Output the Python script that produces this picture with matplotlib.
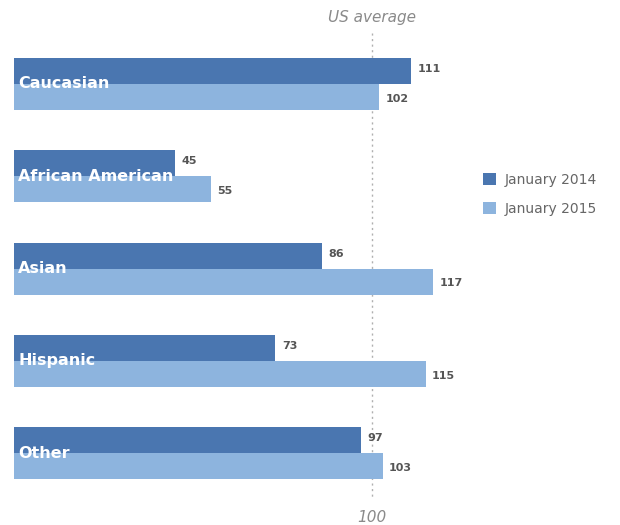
import matplotlib.pyplot as plt
import numpy as np

categories = ['Caucasian', 'African American', 'Asian', 'Hispanic', 'Other']
jan_2014 = [111, 45, 86, 73, 97]
jan_2015 = [102, 55, 117, 115, 103]
series_labels = ['January 2014', 'January 2015']
us_average = 100

dark_blue = '#4a76b0'
light_blue = '#8db4de'
grey = '#8a8a8a'

fig = plt.figure(figsize=(6.2, 5.25), dpi=100)
ax = fig.add_axes([0, 0, 1, 1])

# scale: ~3.58 px per unit, bars start at x=14px; groups 92.25px apart
px_per_unit = 3.58
group_px = 92.25
ax.set_xlim(-14 / px_per_unit, (620 - 14) / px_per_unit)
ax.set_ylim((525 - 84) / group_px, -84 / group_px)
ax.axis('off')

y = np.arange(len(categories))
h = 26 / group_px

# US average reference line (behind bars)
ax.plot([us_average, us_average], [-0.55, 4.5], color='#b0b0b0', lw=1.0,
        ls=(0, (1.5, 2.5)), zorder=1)
ax.text(us_average, -0.72, 'US average', ha='center', va='center',
        fontsize=11, style='italic', color=grey)
ax.text(us_average, 4.7, '100', ha='center', va='center',
        fontsize=11, style='italic', color=grey)

ax.barh(y - h / 2, jan_2014, height=h, color=dark_blue, zorder=2, label=series_labels[0])
ax.barh(y + h / 2, jan_2015, height=h, color=light_blue, zorder=2, label=series_labels[1])

for i, (a, b) in enumerate(zip(jan_2014, jan_2015)):
    ax.text(a + 1.8, i - h / 2 - 0.02, str(a), ha='left', va='center',
            fontsize=8, fontweight='bold', color='#555555')
    ax.text(b + 1.8, i + h / 2 + 0.02, str(b), ha='left', va='center',
            fontsize=8, fontweight='bold', color='#555555')
    ax.text(1.2, i, categories[i], ha='left', va='center', fontsize=11.5,
            fontweight='bold', color='white', zorder=3)

leg = ax.legend(loc='upper left', bbox_to_anchor=(470 / 620, 1 - 160 / 525),
                frameon=False, fontsize=10, handlelength=1.0, handleheight=1.0,
                handletextpad=0.6, labelspacing=1.1)
for t in leg.get_texts():
    t.set_color('#666666')

fig.savefig('out.png', dpi=100)
